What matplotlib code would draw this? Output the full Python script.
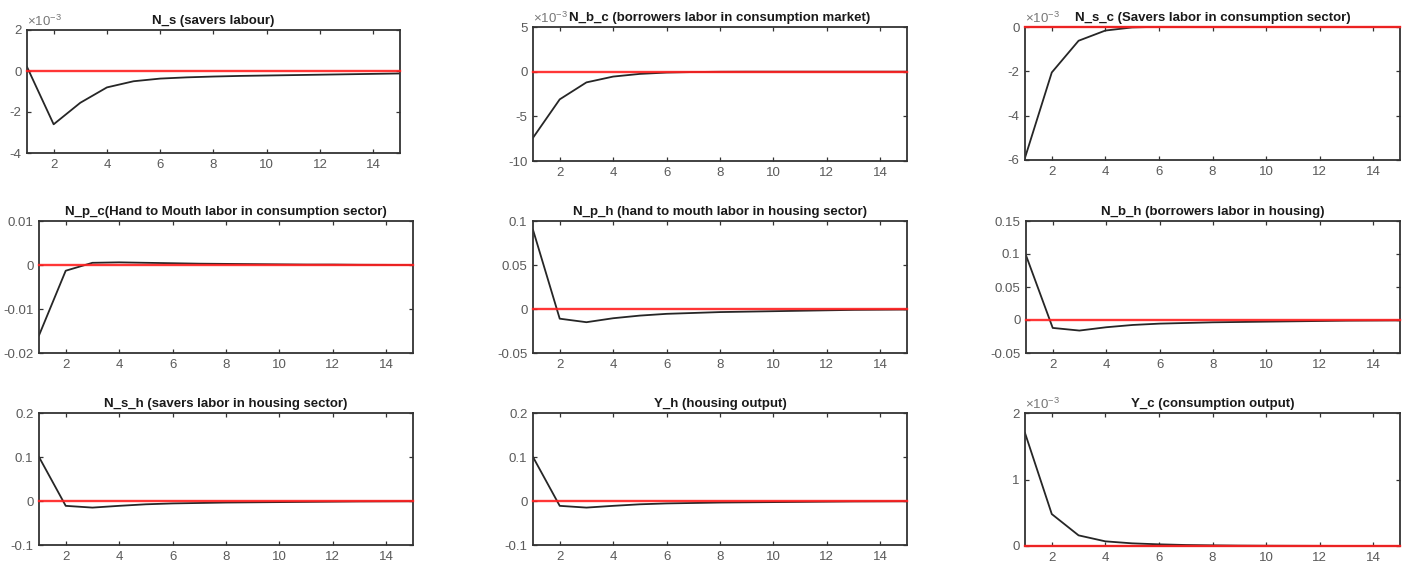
import matplotlib
matplotlib.use("Agg")
import matplotlib.pyplot as plt
import numpy as np
from matplotlib.ticker import FuncFormatter, FixedLocator

plt.rcParams['font.family'] = ['Liberation Sans', 'DejaVu Sans']
plt.rcParams['axes.unicode_minus'] = False
plt.rcParams['mathtext.fontset'] = 'custom'
plt.rcParams['mathtext.rm'] = 'Liberation Sans'

periods = np.arange(1, 16)

# impulse responses
n_s = [0.2e-3, -2.6e-3, -1.55e-3, -0.8e-3, -0.5e-3, -0.37e-3, -0.31e-3, -0.27e-3,
       -0.24e-3, -0.22e-3, -0.2e-3, -0.18e-3, -0.16e-3, -0.14e-3, -0.12e-3]
n_b_c = [-7.4e-3, -3.1e-3, -1.2e-3, -0.55e-3, -0.25e-3, -0.1e-3, -0.04e-3, -0.01e-3,
         0.0, 0.0, 0.0, 0.0, 0.0, 0.0, 0.0]
n_s_c = [-5.9e-3, -2.05e-3, -0.62e-3, -0.16e-3, -0.02e-3, 0.01e-3, 0.01e-3, 0.0,
         0.0, 0.0, 0.0, 0.0, 0.0, 0.0, 0.0]
n_p_c = [-0.016, -0.0013, 0.0005, 0.0006, 0.0005, 0.0004, 0.0003, 0.00025,
         0.0002, 0.00015, 0.0001, 0.0001, 0.00005, 0.00003, 0.0]
n_p_h = [0.09, -0.011, -0.015, -0.0105, -0.0075, -0.0055, -0.0045, -0.0035,
         -0.003, -0.0025, -0.002, -0.0015, -0.001, -0.0008, -0.0006]
n_b_h = [0.098, -0.012, -0.016, -0.011, -0.0075, -0.0055, -0.0045, -0.0035,
         -0.003, -0.0025, -0.002, -0.0015, -0.001, -0.0008, -0.0006]
n_s_h = [0.1, -0.011, -0.015, -0.011, -0.0075, -0.0055, -0.0045, -0.0035,
         -0.003, -0.0025, -0.002, -0.0015, -0.001, -0.0008, -0.0006]
y_h = [0.1, -0.011, -0.015, -0.011, -0.0075, -0.0055, -0.0045, -0.0035,
       -0.003, -0.0025, -0.002, -0.0015, -0.001, -0.0008, -0.0006]
y_c = [1.7e-3, 0.48e-3, 0.16e-3, 0.07e-3, 0.04e-3, 0.025e-3, 0.015e-3, 0.01e-3,
       0.006e-3, 0.004e-3, 0.003e-3, 0.002e-3, 0.001e-3, 0.001e-3, 0.0]

titles = ['N_s (savers labour)', 'N_b_c (borrowers labor in consumption market)',
          'N_s_c (Savers labor in consumption sector)',
          'N_p_c(Hand to Mouth labor in consumption sector)',
          'N_p_h (hand to mouth labor in housing sector)',
          'N_b_h (borrowers labor in housing)',
          'N_s_h (savers labor in housing sector)', 'Y_h (housing output)',
          'Y_c (consumption output)']
series = [n_s, n_b_c, n_s_c, n_p_c, n_p_h, n_b_h, n_s_h, y_h, y_c]
yticks = [[-4e-3, -2e-3, 0, 2e-3], [-10e-3, -5e-3, 0, 5e-3], [-6e-3, -4e-3, -2e-3, 0],
          [-0.02, -0.01, 0, 0.01], [-0.05, 0, 0.05, 0.1], [-0.05, 0, 0.05, 0.1, 0.15],
          [-0.1, 0, 0.1, 0.2], [-0.1, 0, 0.1, 0.2], [0, 1e-3, 2e-3]]
scaled = [True, True, True, False, False, False, False, False, True]

# axes boxes in pixels: left, top, right, bottom
boxes = [(27, 30, 400, 153), (533, 27, 907, 161), (1025, 27, 1400, 160),
         (39, 221, 413, 353), (533, 221, 907, 353), (1026, 221, 1400, 353),
         (39, 413, 413, 545), (533, 413, 907, 545), (1025, 413, 1400, 546)]

W, H = 1407, 573
fig = plt.figure(figsize=(W / 100, H / 100), dpi=100)
fig.patch.set_facecolor('white')

edge = '#333333'
for i in range(9):
    l, t, r, b = boxes[i]
    ax = fig.add_axes([l / W, 1 - b / H, (r - l) / W, (b - t) / H])
    ax.plot(periods, series[i], color='#262626', lw=1.3, zorder=2)
    # zero line, drawn over the frame when it sits on the edge
    ax.plot(periods, np.zeros(len(periods)), color='#ff2020', lw=1.7, zorder=3,
            alpha=0.9, clip_on=False)
    ax.set_xlim(1, 15)
    ax.set_ylim(yticks[i][0], yticks[i][-1])
    ax.xaxis.set_major_locator(FixedLocator([2, 4, 6, 8, 10, 12, 14]))
    ax.yaxis.set_major_locator(FixedLocator(yticks[i]))
    if scaled[i]:
        ax.yaxis.set_major_formatter(FuncFormatter(lambda v, p: '%g' % round(v * 1e3, 6)))
        ax.text(0.0, 1.01, r'$\times10^{-3}$', transform=ax.transAxes, fontsize=9.5,
                color='#777777', ha='left', va='bottom')
    else:
        ax.yaxis.set_major_formatter(FuncFormatter(lambda v, p: '%g' % round(v, 6)))
    ax.tick_params(direction='in', top=True, right=True, length=3, width=0.9,
                   colors=edge, labelsize=9.5, labelcolor='#5a5a5a', pad=4)
    for s in ax.spines.values():
        s.set_color(edge)
        s.set_linewidth(1.3)
    ax.set_title(titles[i], fontsize=9.5, fontweight='bold', color='#1a1a1a', pad=4)

fig.savefig('out.png', dpi=100)
